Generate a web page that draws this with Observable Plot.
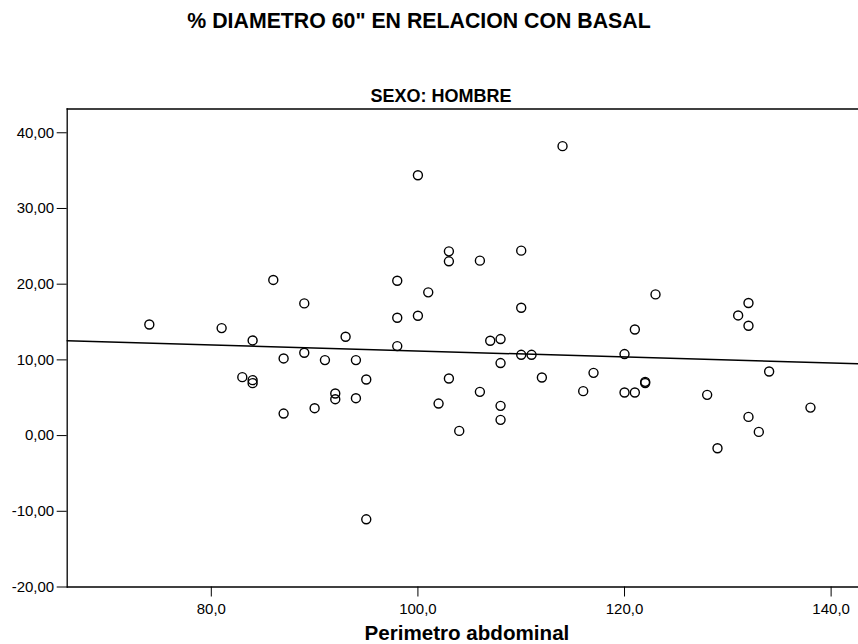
<!DOCTYPE html>
<html>
<head>
<meta charset="utf-8">
<script src="https://cdn.jsdelivr.net/npm/d3@7"></script>
<script src="https://cdn.jsdelivr.net/npm/@observablehq/plot@0.6"></script>
<style>
  body { margin: 0; background: #fff; }
  #wrap { position: relative; width: 858px; height: 644px; font-family: "Liberation Sans", Arial, sans-serif; }
  #wrap svg { position: absolute; left: 0; top: 0; }
  .t { position: absolute; white-space: nowrap; line-height: 1; font-weight: bold; color: #000; transform: translateX(-50%); }
</style>
</head>
<body>
<div id="wrap"></div>
<script>
// Perimetro abdominal (cm) and % change in diameter at 60" vs. baseline, men
const perimetro = [
  74, 81, 83, 84, 84, 84, 86, 87, 87, 89, 89, 90, 91, 92, 92, 93, 94, 94, 95, 95,
  98, 98, 98, 100, 100, 101, 102, 103, 103, 103, 104, 106, 106, 107, 108, 108, 108, 108,
  110, 110, 110, 111, 112, 114, 116, 117, 120, 120, 121, 121, 122, 122, 123, 128, 129,
  131, 132, 132, 132, 133, 134, 138
];
const diametro = [
  14.68, 14.20, 7.72, 12.57, 7.32, 6.93, 20.56, 10.19, 2.91, 17.46, 10.94, 3.62, 9.97, 5.56, 4.81, 13.06, 9.97, 4.94, 7.41, -11.06,
  20.46, 15.57, 11.82, 34.39, 15.83, 18.92, 4.23, 24.34, 23.02, 7.54, 0.62, 23.11, 5.78, 12.53, 12.75, 9.58, 3.93, 2.08,
  24.43, 16.89, 10.67, 10.67, 7.67, 38.23, 5.87, 8.29, 10.77, 5.69, 14.02, 5.69, 7.10, 6.95, 18.65, 5.38, -1.67,
  15.87, 17.51, 14.51, 2.47, 0.49, 8.47, 3.70
];
const xTicks = [80, 100, 120, 140];
const yTicks = [-20, -10, 0, 10, 20, 30, 40];
const xDomain = [66.05, 142.65];
const yDomain = [-20, 43.14];

const titulo = "% DIAMETRO 60\" EN RELACION CON BASAL";
const panel = "SEXO: HOMBRE";
const ejeX = "Perimetro abdominal";

const data = perimetro.map((x, i) => ({x, y: diametro[i]}));

// Least-squares fit line, drawn across the full horizontal extent of the panel
const mx = d3.mean(perimetro), my = d3.mean(diametro);
const sxy = d3.sum(data, d => (d.x - mx) * (d.y - my));
const sxx = d3.sum(data, d => (d.x - mx) ** 2);
const slope = sxy / sxx, intercept = my - slope * mx;
const fit = xDomain.map(x => ({x, y: intercept + slope * x}));

const comma = (v, n) => v.toFixed(n).replace(".", ",");

const chart = Plot.plot({
  width: 858,
  height: 644,
  marginTop: 108.5,
  marginBottom: 57.5,
  marginLeft: 66.7,
  marginRight: 0,
  style: {fontFamily: "'Liberation Sans', Arial, sans-serif", fontSize: "15px", color: "#000", background: "transparent"},
  x: {domain: xDomain, ticks: xTicks, tickFormat: d => comma(d, 1), tickSize: 10, tickPadding: 6, label: null},
  y: {domain: yDomain, ticks: yTicks, tickFormat: d => comma(d, 2), tickSize: 10, tickPadding: 3, label: null},
  marks: [
    Plot.frame({anchor: "left", stroke: "#000", strokeWidth: 1.3}),
    Plot.frame({anchor: "top", stroke: "#000", strokeWidth: 1.3}),
    Plot.frame({anchor: "bottom", stroke: "#000", strokeWidth: 1.3}),
    Plot.line(fit, {x: "x", y: "y", stroke: "#000", strokeWidth: 1.5}),
    Plot.dot(data, {x: "x", y: "y", r: 4.5, stroke: "#000", strokeWidth: 1.4, fill: "none"})
  ]
});

const wrap = document.getElementById("wrap");
wrap.appendChild(chart);

function label(text, left, top, size) {
  const el = document.createElement("div");
  el.className = "t";
  el.textContent = text;
  el.style.left = left + "px";
  el.style.top = top + "px";
  el.style.fontSize = size + "px";
  wrap.appendChild(el);
}
label(titulo, 419, 10.8, 21.3);
label(panel, 441, 87.4, 18);
label(ejeX, 466.9, 622.6, 20.6);
</script>
</body>
</html>
